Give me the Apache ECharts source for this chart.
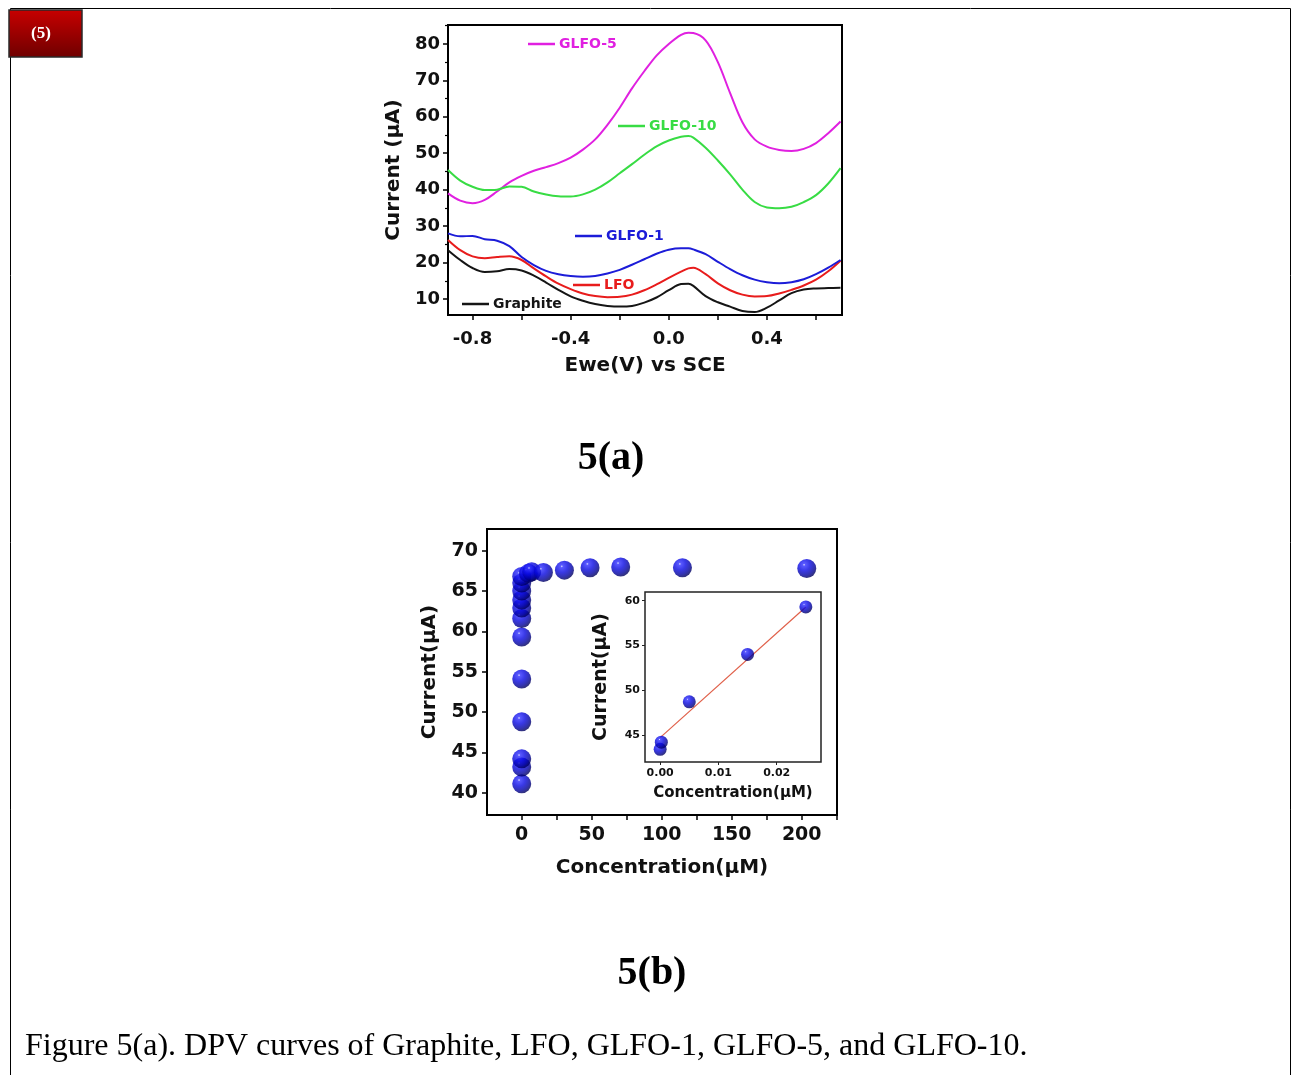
<!DOCTYPE html>
<html>
<head>
<meta charset="utf-8">
<script src="https://cdn.jsdelivr.net/npm/echarts@6/dist/echarts.min.js"></script>
<style>
html,body{margin:0;padding:0;background:#fff;}
#c{width:1298px;height:1075px;}
</style>
</head>
<body>
<div id="c"></div>
<script>
// ---------- Figure 5(a): DPV curves ----------
const voltage = [-0.9,-0.85,-0.8,-0.75,-0.7,-0.65,-0.6,-0.55,-0.5,-0.45,-0.4,-0.35,-0.3,-0.25,-0.2,-0.15,-0.1,-0.05,0,0.05,0.08,0.1,0.15,0.2,0.25,0.3,0.35,0.4,0.45,0.5,0.55,0.6,0.65,0.7];
const glfo5  = [39.0,37.0,36.3,37.2,39.5,42.0,43.8,45.2,46.2,47.3,48.8,51.0,53.8,57.8,62.5,67.8,72.5,76.8,80.0,82.5,83.1,83.0,81.0,75.0,66.5,58.5,53.8,51.8,50.9,50.6,51.2,52.8,55.5,58.7];
const glfo10 = [45.4,42.5,40.8,39.9,40.0,40.9,40.8,39.5,38.7,38.2,38.1,38.7,40.0,42.0,44.5,47.0,49.6,51.9,53.5,54.5,54.7,54.3,51.5,48.0,44.2,40.0,36.6,35.1,34.9,35.3,36.6,38.5,41.7,45.9];
const glfo1  = [28.0,27.2,27.3,26.4,26.0,24.5,21.5,19.3,17.7,16.8,16.3,16.1,16.3,17.0,18.0,19.4,20.9,22.4,23.5,23.9,23.9,23.6,22.3,20.2,18.2,16.5,15.3,14.6,14.3,14.6,15.4,16.8,18.6,20.7];
const lfo    = [26.2,23.4,21.7,21.2,21.5,21.7,20.7,18.4,16.2,14.2,12.7,11.5,10.8,10.5,10.6,11.2,12.4,14.0,15.8,17.5,18.4,18.6,16.8,14.3,12.4,11.2,10.7,10.8,11.5,12.5,13.7,15.3,17.6,20.5];
const graphite = [23.4,20.7,18.5,17.4,17.6,18.2,17.8,16.4,14.5,12.5,10.7,9.5,8.6,8.1,7.9,8.1,9.0,10.4,12.4,14.1,14.2,13.6,10.8,9.1,7.9,6.7,6.4,7.6,9.6,11.6,12.6,12.9,13.0,13.1];
const seriesNamesA = ['Graphite','LFO','GLFO-1','GLFO-5','GLFO-10'];
const xTicksA = [-0.8,-0.6,-0.4,-0.2,0,0.2,0.4,0.6];
const xLabelsA = [-0.8,-0.4,0,0.4];
const yLabelsA = [10,20,30,40,50,60,70,80];
const yMinorA = [15,25,35,45,55,65,75,85];

// ---------- Figure 5(b): calibration ----------
const concMain = [0,0,0,0,0,0,0,0,0,0,0,0,4.8,7.1,15.5,30.5,48.8,70.7,114.8,203.6];
const currentMain = [41.1,43.2,44.2,48.8,54.1,59.3,61.6,62.9,63.9,65.0,66.0,66.8,67.2,67.4,67.3,67.6,67.9,68.0,67.9,67.8];
const xTicksB = [0,25,50,75,100,125,150,175,200,225];
const xLabelsB = [0,50,100,150,200];
const yLabelsB = [40,45,50,55,60,65,70];
const concInset = [0,0.0002,0.005,0.015,0.025];
const currentInset = [43.4,44.2,48.7,54.0,59.3];
const fitConc = [0,0.025];
const fitCurrent = [44.7,59.3];
const xLabelsInset = [0,0.01,0.02];
const yLabelsInset = [45,50,55,60];

const SANS = 'DejaVu Sans';
const colors = {'Graphite':'#151515','LFO':'#e81c1c','GLFO-1':'#1c1cd8','GLFO-5':'#e020e0','GLFO-10':'#38dc44'};
const dataA = {'Graphite':graphite,'LFO':lfo,'GLFO-1':glfo1,'GLFO-5':glfo5,'GLFO-10':glfo10};

const sphere = {type:'radial',x:0.36,y:0.3,r:0.7,colorStops:[{offset:0,color:'#d8d8ff'},{offset:0.1,color:'#3030ff'},{offset:0.45,color:'#0808e0'},{offset:0.8,color:'#00009c'},{offset:1,color:'#000060'}]};

const lab = (sz)=>({fontFamily:SANS,fontWeight:'bold',fontSize:sz,color:'#111'});
const noLine = {show:false, onZero:false};

const chart = echarts.init(document.getElementById('c'), null, {renderer:'canvas'});

const legendPos = [
  {name:'GLFO-5', left:528, top:37},
  {name:'GLFO-10', left:618, top:119},
  {name:'GLFO-1', left:575, top:229},
  {name:'LFO', left:573, top:278},
  {name:'Graphite', left:462, top:297}
];

const option = {
  animation:false,
  backgroundColor:'#fff',
  grid:[
    {left:448, top:25, width:394, height:290, show:true, borderColor:'#000', borderWidth:2, backgroundColor:'#fff'},
    {left:487, top:529, width:350, height:286, show:true, borderColor:'#000', borderWidth:2, backgroundColor:'#fff'},
    {left:645, top:592, width:176, height:170, show:true, borderColor:'#222', borderWidth:1.5, backgroundColor:'#fff', z:5}
  ],
  xAxis:[
    {type:'value', gridIndex:0, min:-0.9, max:0.706,
     axisLine:noLine, splitLine:{show:false},
     axisTick:{show:true, length:5, lineStyle:{color:'#000',width:1.5}, customValues:xTicksA},
     axisLabel:{margin:15, customValues:xLabelsA, formatter:v=>Number(v).toFixed(1), ...lab(18)},
     name:'Ewe(V) vs SCE', nameLocation:'middle', nameGap:41, nameTextStyle:lab(20)},
    {type:'value', gridIndex:1, min:-24.8, max:225.2,
     axisLine:noLine, splitLine:{show:false},
     axisTick:{show:true, length:5, lineStyle:{color:'#000',width:1.5}, customValues:xTicksB},
     axisLabel:{margin:11, customValues:xLabelsB, formatter:v=>String(Math.round(v)), ...lab(19)},
     name:'Concentration(μM)', nameLocation:'middle', nameGap:43, nameTextStyle:lab(20)},
    {type:'value', gridIndex:2, min:-0.0026, max:0.0276, z:6,
     axisLine:noLine, splitLine:{show:false},
     axisTick:{show:true, length:3, lineStyle:{color:'#222',width:1}, customValues:xLabelsInset},
     axisLabel:{margin:6, customValues:xLabelsInset, formatter:v=>Number(v).toFixed(2), ...lab(11)},
     name:'Concentration(μM)', nameLocation:'middle', nameGap:24, nameTextStyle:lab(15)}
  ],
  yAxis:[
    {type:'value', gridIndex:0, min:5.6, max:85.2,
     axisLine:noLine, splitLine:{show:false},
     axisTick:{show:true, length:5, lineStyle:{color:'#000',width:1.5}, customValues:yLabelsA},
     axisLabel:{margin:8, customValues:yLabelsA, ...lab(18)},
     name:'Current (μA)', nameLocation:'middle', nameGap:44, nameTextStyle:lab(20)},
    {type:'value', gridIndex:0, min:5.6, max:85.2, position:'left',
     axisLine:noLine, splitLine:{show:false},
     axisTick:{show:true, length:3, lineStyle:{color:'#000',width:1.2}, customValues:yMinorA},
     axisLabel:{show:false}},
    {type:'value', gridIndex:1, min:37.24, max:72.7,
     axisLine:noLine, splitLine:{show:false},
     axisTick:{show:true, length:5, lineStyle:{color:'#000',width:1.5}, customValues:yLabelsB},
     axisLabel:{margin:9, customValues:yLabelsB, ...lab(19)},
     name:'Current(μA)', nameLocation:'middle', nameGap:47, nameTextStyle:lab(20)},
    {type:'value', gridIndex:2, min:41.98, max:60.97, z:6,
     axisLine:noLine, splitLine:{show:false},
     axisTick:{show:true, length:3, lineStyle:{color:'#222',width:1}, customValues:yLabelsInset},
     axisLabel:{margin:5, customValues:yLabelsInset, ...lab(11)},
     name:'Current(μA)', nameLocation:'middle', nameGap:34, nameTextStyle:lab(19)}
  ],
  legend: legendPos.map(p=>({
    data:[{name:p.name, icon:'rect'}], left:p.left, top:p.top, padding:0,
    itemWidth:27, itemHeight:2.5, itemGap:5, selectedMode:false,
    textStyle:{color:colors[p.name], fontFamily:SANS, fontWeight:'bold', fontSize:14, padding:[0,0,0,-1]}
  })),
  series:[
    ...seriesNamesA.map(n=>({
      name:n, type:'line', xAxisIndex:0, yAxisIndex:0, smooth:0.35, showSymbol:false, color:colors[n],
      lineStyle:{width:2, color:colors[n]},
      data: voltage.map((v,i)=>[v, dataA[n][i]])
    })),
    {name:'main', type:'scatter', xAxisIndex:1, yAxisIndex:2, symbolSize:19,
     itemStyle:{color:sphere},
     data: concMain.map((c,i)=>[c, currentMain[i]])},
    {name:'fit', type:'line', xAxisIndex:2, yAxisIndex:3, showSymbol:false, z:7,
     lineStyle:{width:1.2, color:'#e0604a'},
     data: fitConc.map((c,i)=>[c, fitCurrent[i]])},
    {name:'inset', type:'scatter', xAxisIndex:2, yAxisIndex:3, symbolSize:13, z:8,
     itemStyle:{color:sphere},
     data: concInset.map((c,i)=>[c, currentInset[i]])}
  ],
  graphic:[
    {type:'rect', shape:{x:10.5,y:8.5,width:1280,height:1100}, style:{fill:'none',stroke:'#000',lineWidth:1}, z:0},
    {type:'rect', shape:{x:9,y:10,width:73,height:47}, style:{fill:{type:'linear',x:0,y:0,x2:0,y2:1,colorStops:[{offset:0,color:'#c80000'},{offset:1,color:'#6e0000'}]},stroke:'#2a2a2a',lineWidth:1.5}, z:10},
    {type:'text', x:41, y:34, style:{text:'(5)', fill:'#fff', font:'bold 17px "Liberation Serif"', textAlign:'center', textVerticalAlign:'middle'}, z:11},
    {type:'text', x:611, y:459, style:{text:'5(a)', fill:'#000', font:'bold 40px "Liberation Serif"', textAlign:'center', textVerticalAlign:'middle'}},
    {type:'text', x:652, y:974, style:{text:'5(b)', fill:'#000', font:'bold 40px "Liberation Serif"', textAlign:'center', textVerticalAlign:'middle'}},
    {type:'text', x:25, y:1047, style:{text:'Figure 5(a). DPV curves of Graphite, LFO, GLFO-1, GLFO-5, and GLFO-10.', fill:'#000', font:'32px "Liberation Serif"', textAlign:'left', textVerticalAlign:'middle'}}
  ]
};
chart.setOption(option);
</script>
</body>
</html>
